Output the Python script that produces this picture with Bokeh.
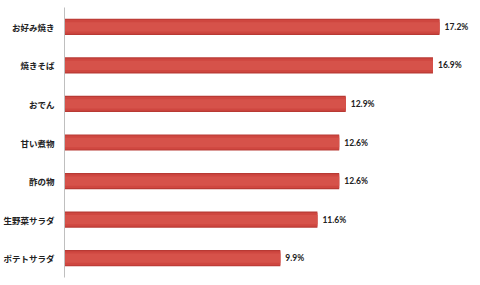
from bokeh.plotting import figure
from bokeh.models import ColumnDataSource, FactorRange, Range1d
from bokeh.core.properties import value
from bokeh.embed import file_html
from bokeh.resources import INLINE

categories = ["お好み焼き", "焼きそば", "おでん", "甘い煮物", "酢の物", "生野菜サラダ", "ポテトサラダ"]
values = [17.2, 16.9, 12.9, 12.6, 12.6, 11.6, 9.9]
labels = ["17.2%", "16.9%", "12.9%", "12.6%", "12.6%", "11.6%", "9.9%"]

src = ColumnDataSource(dict(cat=categories, val=values, lab=labels))

p = figure(width=480, height=285, output_backend="svg", toolbar_location=None,
           y_range=FactorRange(*categories[::-1]), x_range=Range1d(0, 19.08),
           min_border_left=64, min_border_right=0, min_border_top=7, min_border_bottom=8)

# main bar (with a darker bottom and lighter top for the gradient look)
p.hbar(y="cat", right="val", left=0, height=0.42, source=src,
       fill_color="#B83A34", line_color=None)
p.hbar(y="cat", right="val", left=0, height=0.36, source=src,
       fill_color="#CF4740", line_color=None)
p.hbar(y="cat", right="val", left=0, height=0.24, source=src,
       fill_color="#D6524A", line_color=None)

p.text(x="val", y="cat", text="lab", source=src, x_offset=5,
       text_baseline="middle", text_align="left",
       text_font=value("Lato"), text_font_style="bold",
       text_font_size="8.5px", text_color="#222222")

p.xaxis.visible = False
p.xgrid.visible = False
p.ygrid.visible = False
p.outline_line_color = None

ya = p.yaxis[0]
ya.axis_line_color = "#BFBFBF"
ya.axis_line_width = 1
ya.major_tick_line_color = None
ya.minor_tick_line_color = None
ya.major_tick_out = 0
ya.major_tick_in = 0
ya.major_label_standoff = 10
ya.major_label_text_font = "Noto Sans CJK JP"
ya.major_label_text_font_style = "bold"
ya.major_label_text_font_size = "8.5px"
ya.major_label_text_color = "#222222"

open("out.html", "w").write(file_html(p, INLINE))
